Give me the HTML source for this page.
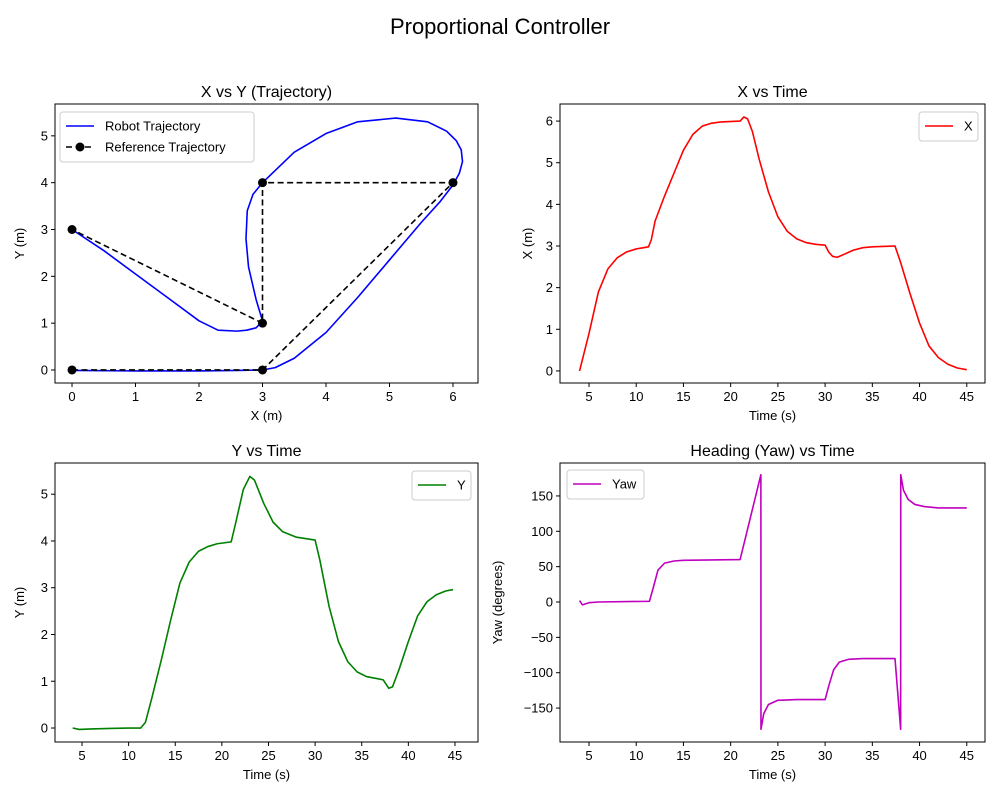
<!DOCTYPE html>
<html><head><meta charset="utf-8"><style>
body{margin:0;background:#fff}
svg{display:block;font-family:"Liberation Sans","DejaVu Sans",sans-serif}
</style></head><body>
<svg id="fig" width="1000" height="800" xmlns="http://www.w3.org/2000/svg">
<rect width="1000" height="800" fill="#fff"/>
<text x="500" y="34" font-size="22" text-anchor="middle">Proportional Controller</text>
</svg>
<script>
// ---- data ----
const robotX=[0,1,2,2.6,3,3.2,3.5,4,4.5,5,5.5,5.8,6,6.1,6.15,6.13,6.05,5.9,5.6,5.1,4.5,4,3.5,3.0,2.85,2.76,2.74,2.78,2.9,3.0,2.9,2.75,2.6,2.3,2,1.5,1,0.5,0];
const robotY=[-0.01,-0.02,-0.02,-0.01,0,0.05,0.25,0.8,1.55,2.35,3.15,3.6,3.95,4.2,4.45,4.7,4.9,5.1,5.3,5.38,5.3,5.05,4.65,4.0,3.75,3.4,2.8,2.2,1.5,1.05,0.9,0.85,0.83,0.85,1.05,1.55,2.05,2.55,3.0];
const refX=[0,3,6,3,3,0];
const refY=[0,0,4,4,1,3];
const tX=[4,5,6,7,8,9,10,11.3,11.6,12,13,14,15,16,17,18,19,21,21.4,21.8,22.3,23,24,25,26,27,28,29,30,30.4,30.8,31.3,32,33,34,35,37.4,38,39,40,41,42,43,44,45];
const valX=[0,0.9,1.9,2.45,2.72,2.86,2.93,2.98,3.15,3.6,4.2,4.75,5.3,5.68,5.88,5.95,5.98,6.0,6.1,6.05,5.75,5.1,4.3,3.7,3.35,3.17,3.08,3.04,3.02,2.85,2.75,2.73,2.8,2.9,2.96,2.98,3.0,2.6,1.85,1.15,0.6,0.32,0.16,0.07,0.03];
const tY=[4,4.7,6,8,10,11.3,11.8,12.5,13.5,14.5,15.5,16.5,17.5,18.5,19.5,21,21.5,22.3,23,23.5,24.5,25.5,26.5,28,30,30.5,31.5,32.5,33.5,34.5,35.5,37.3,37.9,38.3,39,40,41,42,43,44,44.8];
const valY=[0,-0.03,-0.02,-0.01,0,0,0.12,0.65,1.45,2.3,3.1,3.55,3.78,3.88,3.94,3.98,4.4,5.1,5.38,5.3,4.8,4.4,4.2,4.08,4.02,3.6,2.6,1.85,1.42,1.2,1.1,1.03,0.85,0.88,1.25,1.85,2.4,2.7,2.85,2.93,2.96];
const tYaw=[4,4.3,5,6,11.4,11.8,12.3,13,14,15,21,23.2,23.21,23.5,24,25,27,30,30.4,30.9,31.5,32.5,34,37.4,38,38.01,38.3,38.8,39.5,40.5,42,45];
const valYaw=[2,-4,-1,0,1,20,45,55,58,59,60,180,-180,-158,-145,-139,-138,-138,-118,-96,-85,-81,-80,-80,-180,180,158,145,138,135,133,133];
const ticksTL_X=[0,1,2,3,4,5,6], ticksTL_Y=[0,1,2,3,4,5];
const ticksT=[5,10,15,20,25,30,35,40,45];
const ticksX=[0,1,2,3,4,5,6], ticksY=[0,1,2,3,4,5];
const ticksYaw=[-150,-100,-50,0,50,100,150];

const NS="http://www.w3.org/2000/svg", svg=document.getElementById('fig');
function mk(tag,attrs,parent){const e=document.createElementNS(NS,tag);for(const k in attrs)e.setAttribute(k,attrs[k]);(parent||svg).appendChild(e);return e;}
function axis(L,T,R,B,x0,x1,y0,y1){return {L,T,R,B,sx:v=>L+(v-x0)/(x1-x0)*(R-L),sy:v=>B-(v-y0)/(y1-y0)*(B-T)};}
function frame(a,name,title,xl,yl,xt,yt,ylx){
  const g=mk('g',{});
  
  
  const t=mk('text',{x:(a.L+a.R)/2,y:a.T-7,'font-size':16,'text-anchor':'middle'},g);t.textContent=title;
  
  
  xt.forEach(v=>{const x=a.sx(v);mk('line',{x1:x,x2:x,y1:a.B,y2:a.B+4,stroke:'#000'},g);
    const s=mk('text',{x:x,y:a.B+18,'font-size':13,'text-anchor':'middle'},g);s.textContent=v;
    
    });
  yt.forEach(v=>{const y=a.sy(v);mk('line',{x1:a.L-4,x2:a.L,y1:y,y2:y,stroke:'#000'},g);
    const s=mk('text',{x:a.L-7,y:y+4.5,'font-size':13,'text-anchor':'end'},g);s.textContent=v<0?'\u2212'+(-v):v;
    
    });
  const xs=mk('text',{x:(a.L+a.R)/2,y:a.B+37,'font-size':13,'text-anchor':'middle'},g);xs.textContent=xl;
  
  
  const yx=ylx, yc=(a.T+a.B)/2;
  const ys=mk('text',{x:yx,y:yc,'font-size':13,'text-anchor':'middle',transform:`rotate(-90 ${yx} ${yc})`},g);ys.textContent=yl;
  
  
  return g;
}
function border(a){const r=mk('rect',{x:a.L,y:a.T,width:a.R-a.L,height:a.B-a.T,fill:'none',stroke:'#000','stroke-width':1});
  
  }
function line(a,xs,ys,color,name,extra){const p=mk('polyline',Object.assign({points:xs.map((x,i)=>a.sx(x)+','+a.sy(ys[i])).join(' '),fill:'none',stroke:color,'stroke-width':1.6,'stroke-linejoin':'round'},extra||{}));
  
  return p;}
function legend(x,y,w,items){const g=mk('g',{});
  
  
  mk('rect',{x:x,y:y,width:w,height:8+items.length*21,rx:3,fill:'#fff',stroke:'#ccc'},g);
  items.forEach((it,i)=>{const cy=y+14+i*21;
    mk('line',{x1:x+6,x2:x+34,y1:cy,y2:cy,stroke:it.c,'stroke-width':1.6,'stroke-dasharray':it.dash||''},g);
    if(it.m)mk('circle',{cx:x+20,cy:cy,r:4.5,fill:it.c},g);
    const t=mk('text',{x:x+45,y:cy+4.5,'font-size':13},g);t.textContent=it.t;
    
    });}

// Top-left trajectory
const a1=axis(55,104,478,383,-0.268,6.394,-0.278,5.68);
frame(a1,'trajectory-panel','X vs Y (Trajectory)','X (m)','Y (m)',ticksTL_X,ticksTL_Y,24);
line(a1,robotX,robotY,'#0000ff','robot-trajectory-line');
line(a1,refX,refY,'#000','reference-trajectory-line',{'stroke-dasharray':'6,3.5'});
refX.forEach((x,i)=>{const c=mk('circle',{cx:a1.sx(x),cy:a1.sy(refY[i]),r:4.5,fill:'#000'});
  
  });
border(a1);
legend(60,112,194,[{t:'Robot Trajectory',c:'#0000ff'},{t:'Reference Trajectory',c:'#000',dash:'6,3.5',m:1}]);

// Top-right X vs time
const a2=axis(560,104,985,383,1.93,46.93,-0.29,6.41);
frame(a2,'x-vs-time-panel','X vs Time','Time (s)','X (m)',ticksT,ticksX,532);
line(a2,tX,valX,'#ff0000','x-line');
border(a2);
legend(919,112,59,[{t:'X',c:'#ff0000'}]);

// Bottom-left Y vs time
const a3=axis(55,463,478,742,2.105,47.47,-0.299,5.667);
frame(a3,'y-vs-time-panel','Y vs Time','Time (s)','Y (m)',ticksT,ticksY,24);
line(a3,tY,valY,'#008000','y-line');
border(a3);
legend(412,471,59,[{t:'Y',c:'#008000'}]);

// Bottom-right Yaw vs time
const a4=axis(560,463,985,742,1.93,46.93,-198,196.6);
frame(a4,'yaw-vs-time-panel','Heading (Yaw) vs Time','Time (s)','Yaw (degrees)',ticksT,ticksYaw,502);
line(a4,tYaw,valYaw,'#bf00bf','yaw-line');
border(a4);
legend(567,470,77,[{t:'Yaw',c:'#bf00bf'}]);
</script>
</body></html>
